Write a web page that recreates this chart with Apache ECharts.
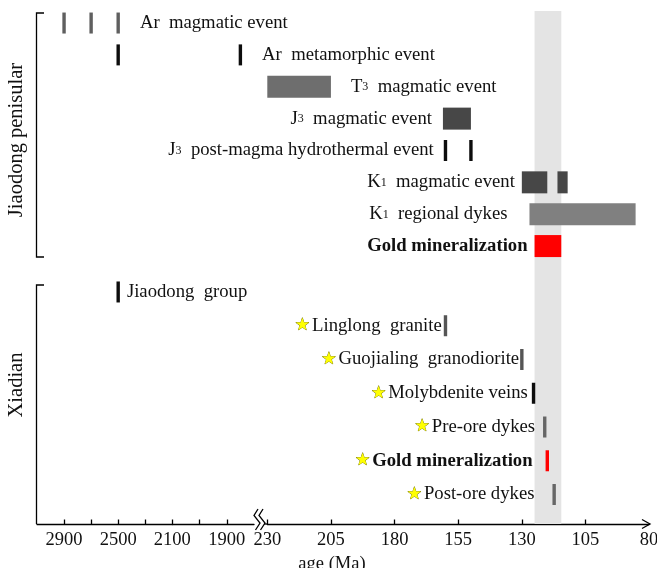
<!DOCTYPE html>
<html><head><meta charset="utf-8">
<script src="https://cdn.jsdelivr.net/npm/echarts@6/dist/echarts.min.js"></script>
<style>html,body{margin:0;padding:0;background:#fff}#c{width:657px;height:568px}</style>
</head><body><div id="c"></div>
<script>
// ---------- data ----------
const jiaodongRows = ['Ar  magmatic event', 'Ar  metamorphic event', 'T3  magmatic event', 'J3  magmatic event',
  'J3  post-magma hydrothermal event', 'K1  magmatic event', 'K1  regional dykes', 'Gold mineralization'];
// ages in Ma: [a] single age, [a, b] age range
const jiaodongAges = [
  [[2900], [2700], [2500]],
  [[2500], [1850]],
  [[230, 205]],
  [[161, 150]],
  [[160], [150]],
  [[130, 120], [116, 112]],
  [[127, 85.3]],
  [[125, 114.5]]
];
const xiadianRows = ['Jiaodong  group', 'Linglong  granite', 'Guojialing  granodiorite', 'Molybdenite veins',
  'Pre-ore dykes', 'Gold mineralization', 'Post-ore dykes'];
const xiadianAges = [[[2500]], [[160]], [[130]], [[125.4]], [[121]], [[120]], [[117.3]]];
const goldBand = [125, 114.5];
const ticksA = [2900, 2700, 2500, 2300], labelsA = [2900, 2500];
const ticksB = [2100, 2000, 1900], labelsB = [2100, 1900];
const ticksC = [230, 205, 180, 155, 130, 105], labelsC = [230, 205, 180, 155, 130, 105, 80];

// ---------- styles / layout ----------
const FONT = 'Liberation Serif';
const FS = 18.7;
const jiaodongColors = ['#5f5f5f', '#0d0d0d', '#6e6e6e', '#474747', '#0d0d0d', '#474747', '#808080', '#ff0000'];
const xiadianColors = ['#0d0d0d', '#555555', '#555555', '#0d0d0d', '#666666', '#ff0000', '#666666'];
const jiaodongSide = ['right', 'right', 'right', 'left', 'left', 'left', 'left', 'left'];
const jiaodongGap = [20, 20, 20, 11, 10, 7, 22, 7];
const xiadianSide = ['right', 'left', 'left', 'left', 'left', 'left', 'left'];
const xiadianGap = [7, 2, 1, 4, 8, 13, 18];
const jiaodongBold = [0, 0, 0, 0, 0, 0, 0, 1];
const xiadianBold = [0, 0, 0, 0, 0, 1, 0];
const xiadianStar = [0, 1, 1, 1, 1, 1, 1];

const segments = [
  {left: 37, right: 172.3, min: 2100, max: 3100, ticks: ticksA, labels: labelsA},
  {left: 172.3, right: 254, min: 1800, max: 2100, ticks: ticksB, labels: labelsB},
  {left: 267.3, right: 649.1, min: 80, max: 230, ticks: ticksC, labels: labelsC}
];
const panels = [
  {rows: jiaodongRows, ages: jiaodongAges, colors: jiaodongColors, side: jiaodongSide, gap: jiaodongGap,
   bold: jiaodongBold, star: jiaodongRows.map(() => 0), top: 7.1, height: 254.9, showAxis: false},
  {rows: xiadianRows, ages: xiadianAges, colors: xiadianColors, side: xiadianSide, gap: xiadianGap,
   bold: xiadianBold, star: xiadianStar, top: 275.1, height: 236.3, showAxis: true}
];

function richText(name, star) {
  const m = name.match(/^([A-Z])(\d)(\s.*)$/);
  const t = m ? m[1] + '{sub|' + m[2] + '}' + m[3] : name;
  return (star ? '{star|★}' : '') + t;
}
function segOf(age) {
  return segments.findIndex(s => age >= s.min && age <= s.max);
}

const grids = [], xAxes = [], yAxes = [], series = [];

// band grid (behind)
const segC = segments[2];
grids.push({left: segC.left, width: segC.right - segC.left, top: 11, height: 513, outerBoundsMode: 'none'});
xAxes.push({gridIndex: 0, type: 'value', min: segC.min, max: segC.max, inverse: true, show: false});
yAxes.push({gridIndex: 0, type: 'value', min: 0, max: 1, show: false});
series.push({
  type: 'custom', xAxisIndex: 0, yAxisIndex: 0, z: 1, silent: true, clip: false,
  data: [[goldBand[0], goldBand[1]]],
  renderItem: (params, api) => {
    const p1 = api.coord([api.value(0), 1]), p2 = api.coord([api.value(1), 0]);
    return {type: 'rect', shape: {x: Math.min(p1[0], p2[0]), y: p1[1], width: Math.abs(p2[0] - p1[0]), height: p2[1] - p1[1]},
      style: {fill: '#e4e4e4'}};
  }
});

panels.forEach((p, pi) => {
  segments.forEach((s, si) => {
    const gi = grids.length;
    grids.push({left: s.left, width: s.right - s.left, top: p.top, height: p.height, outerBoundsMode: 'none'});
    xAxes.push({
      gridIndex: gi, type: 'value', min: s.min, max: s.max, inverse: true, show: p.showAxis,
      offset: p.showAxis ? 12.6 : 0,
      splitLine: {show: false},
      axisLine: {show: true, lineStyle: {color: '#000', width: 1.3}},
      axisTick: {show: true, inside: true, length: 4.5, lineStyle: {color: '#000', width: 1.3}, customValues: s.ticks},
      axisLabel: {show: true, customValues: s.labels, margin: 7, color: '#111', fontFamily: FONT, fontSize: 18.5,
        formatter: v => String(v)}
    });
    yAxes.push({gridIndex: gi, type: 'category', data: p.rows, inverse: true, show: false});

    const items = [];
    p.ages.forEach((marks, row) => {
      const youngest = marks.reduce((bi, m, i) => Math.min(...m) < Math.min(...marks[bi]) ? i : bi, 0);
      const oldest = marks.reduce((bi, m, i) => Math.max(...m) > Math.max(...marks[bi]) ? i : bi, 0);
      const anchor = p.side[row] === 'right' ? youngest : oldest;
      marks.forEach((m, mi) => {
        const a = m[0], b = m.length > 1 ? m[1] : m[0];
        if (segOf(a) !== si) return;
        items.push({row, a, b, color: p.colors[row],
          label: mi === anchor ? p.rows[row] : null, side: p.side[row], gap: p.gap[row],
          bold: p.bold[row], star: p.star[row]});
      });
    });
    series.push({
      type: 'custom', xAxisIndex: gi, yAxisIndex: gi, z: 3, silent: true, clip: false,
      data: items.map(it => [it.a, it.row, it.b]),
      renderItem: (params, api) => {
        const it = items[params.dataIndex];
        const p1 = api.coord([api.value(0), api.value(1)]);
        const p2 = api.coord([api.value(2), api.value(1)]);
        const y = p1[1];
        let x1 = Math.min(p1[0], p2[0]), x2 = Math.max(p1[0], p2[0]), h = 22;
        if (it.a === it.b) { x1 = p1[0] - 1.7; x2 = p1[0] + 1.7; h = 21; }
        const ch = [{type: 'rect', shape: {x: x1, y: y - h / 2, width: x2 - x1, height: h}, style: {fill: it.color}}];
        if (it.label) {
          const right = it.side === 'right';
          ch.push({type: 'text', style: {
            text: richText(it.label, it.star),
            x: right ? x2 + it.gap : x1 - it.gap, y: y,
            align: right ? 'left' : 'right', verticalAlign: 'middle',
            fill: '#111', fontFamily: FONT, fontSize: FS, fontWeight: it.bold ? 'bold' : 'normal',
            rich: {
              sub: {fontSize: 12, fontFamily: FONT, fill: '#111', verticalAlign: 'bottom', padding: [0, 0, 3, 0]},
              star: {fontSize: 17, fontFamily: 'DejaVu Sans', fill: '#ffff00', stroke: '#6b6b00', lineWidth: 0.7,
                padding: [0, 2, 0, 0]}
            }
          }});
        }
        return {type: 'group', children: ch};
      }
    });
  });
});

const line = {stroke: '#000', lineWidth: 1.3, fill: null};
const graphic = [
  {type: 'polyline', shape: {points: [[44, 13], [36.5, 13], [36.5, 257], [44, 257]]}, style: line},
  {type: 'polyline', shape: {points: [[44, 285], [36.5, 285], [36.5, 524]]}, style: line},
  {type: 'polyline', shape: {points: [[642, 519.5], [650, 524], [642, 528.5]]}, style: line},
  {type: 'polyline', shape: {points: [[258, 509], [254, 515.5], [260, 523], [255.5, 530]]}, style: line},
  {type: 'polyline', shape: {points: [[263, 509], [259, 515.5], [265, 523], [260.5, 530]]}, style: line},
  {type: 'line', shape: {x1: 264, y1: 524, x2: 268, y2: 524}, style: line},
  {type: 'text', x: 17, y: 140, rotation: Math.PI / 2,
    style: {text: 'Jiaodong penisular', fontFamily: FONT, fontSize: 20.5, fill: '#111', align: 'center', verticalAlign: 'middle'}},
  {type: 'text', x: 17, y: 385, rotation: Math.PI / 2,
    style: {text: 'Xiadian', fontFamily: FONT, fontSize: 20.5, fill: '#111', align: 'center', verticalAlign: 'middle'}},
  {type: 'text', x: 332, y: 564, style: {text: 'age (Ma)', fontFamily: FONT, fontSize: 18.5, fill: '#111', align: 'center', verticalAlign: 'middle'}}
];

const chart = echarts.init(document.getElementById('c'), null, {renderer: 'canvas'});
chart.setOption({animation: false, backgroundColor: '#fff', grid: grids, xAxis: xAxes, yAxis: yAxes, series, graphic});
</script></body></html>
